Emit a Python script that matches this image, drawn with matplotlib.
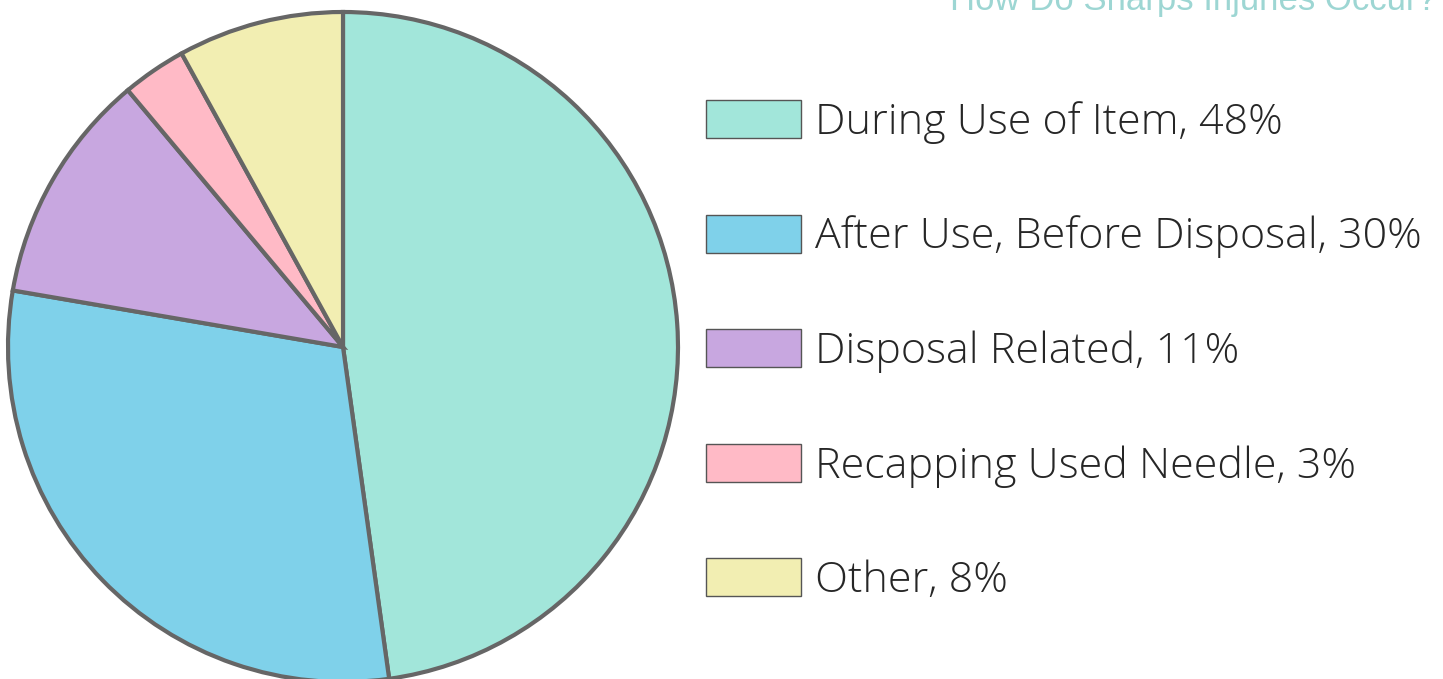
import matplotlib
matplotlib.use('Agg')
import matplotlib.pyplot as plt
from matplotlib.patches import Patch

labels = ['During Use of Item', 'After Use, Before Disposal', 'Disposal Related',
          'Recapping Used Needle', 'Other']
label_pcts = [48, 30, 11, 3, 8]
# slice sizes as measured from the wedge angles (labels show rounded values)
shares = [47.8, 29.9, 11.2, 3.1, 8.0]
colors = ['#a2e6da', '#7fd1ea', '#c8a7e0', '#ffbac6', '#f2eeb2']
title = 'How Do Sharps Injuries Occur?'

W, H = 1443, 679
fig = plt.figure(figsize=(W / 100, H / 100), dpi=100)
fig.patch.set_facecolor('white')

# pie axes placed in pixels: centre (343, 347 from top), radius 335
r = 335
cx, cy = 343, H - 347
ax = fig.add_axes([(cx - r) / W, (cy - r) / H, 2 * r / W, 2 * r / H])
ax.pie(shares, colors=colors, startangle=90, counterclock=False,
       wedgeprops=dict(edgecolor='#666666', linewidth=3, joinstyle='miter'))
ax.set_xlim(-1, 1)
ax.set_ylim(-1, 1)
ax.set_aspect('equal')
ax.axis('off')

handles = [Patch(facecolor=c, edgecolor='#555555', linewidth=1) for c in colors]
leg_labels = [f'{l}, {p}%' for l, p in zip(labels, label_pcts)]
fig.legend(handles, leg_labels, loc='upper left', bbox_to_anchor=(706 / W, 1 - 100 / H),
           frameon=False, handlelength=2.2, handleheight=0.98,
           labelspacing=1.645, handletextpad=0.33, borderaxespad=0, borderpad=0,
           prop=dict(family='Open Sans', weight='light', size=31), labelcolor='#262626')

fig.text(1437 / W, 1 - 10 / H, title, ha='right', va='baseline', fontsize=25,
         color='#9dd6d3', family='Liberation Sans')

fig.savefig('out.png', dpi=100)
